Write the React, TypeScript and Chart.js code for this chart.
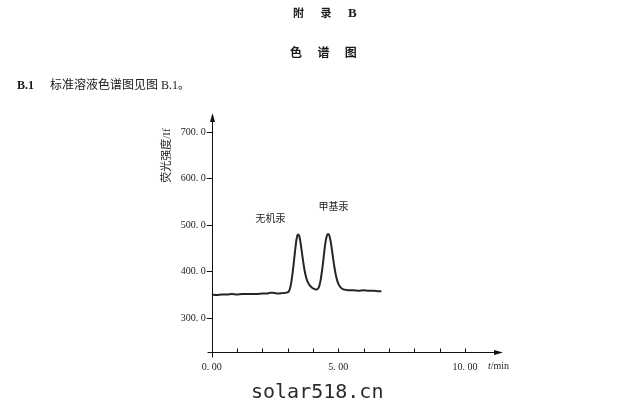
import React, { useEffect, useRef } from "react";
import { Chart, registerables } from "chart.js";

Chart.register(...registerables);

// ---- data ----
const times: number[] = [
  0.0, 0.2, 0.4, 0.6, 0.8, 1.0, 1.2, 1.4, 1.6, 1.8, 2.0, 2.2, 2.3, 2.4, 2.5, 2.6, 2.8, 2.95,
  3.05, 3.1, 3.15, 3.2, 3.25, 3.3, 3.35, 3.4, 3.45, 3.5, 3.55, 3.6, 3.65, 3.7, 3.75, 3.8,
  3.85, 3.9, 3.95, 4.0, 4.05, 4.1, 4.15, 4.2, 4.25, 4.3, 4.35, 4.4, 4.45, 4.5, 4.55, 4.6,
  4.65, 4.7, 4.75, 4.8, 4.85, 4.9, 4.95, 5.0, 5.1, 5.2, 5.3, 5.4, 5.6, 5.8, 6.0, 6.2, 6.4,
  6.6, 6.7,
];
const intensity: number[] = [
  351, 350, 351, 351, 352, 351, 352, 352, 352, 352, 353, 353, 355, 355, 354, 353, 354, 355,
  358, 366, 380, 400, 424, 449, 470, 480, 478, 465, 446, 426, 408, 394, 384, 377,
  372, 369, 366, 364, 363, 362, 362, 364, 370, 382, 400, 422, 446, 466, 478, 481,
  477, 464, 446, 426, 408, 393, 382, 374, 366, 362, 361, 360, 360, 359, 360, 359, 359,
  358, 358,
];
const yTickValues: number[] = [300, 400, 500, 600, 700];
const xTickValues: number[] = [1, 2, 3, 4, 5, 6, 7, 8, 9, 10];
const xLabelValues: number[] = [0, 5, 10];
const annotationLabels: string[] = ["无机汞", "甲基汞"];
const annotationTimes: number[] = [2.32, 4.81];
const annotationValues: number[] = [515, 541];
const yAxisTitle = "荧光强度/If";
const xAxisUnitItalic = "t";
const xAxisUnit = "/min";
const yMin = 228;
const yMax = 741.5;
const xMin = 0;
const xMax = 11.5;

const serif = '"Liberation Serif", "DejaVu Serif", serif';
const cjk = '"Liberation Serif", "Noto Sans CJK SC", sans-serif';

const decorPlugin = {
  id: "decor",
  afterDraw(chart: any) {
    const { ctx, chartArea, scales } = chart;
    const xs = scales.x;
    const ys = scales.y;
    const left = Math.round(xs.getPixelForValue(xMin)) + 0.5;
    const bottom = Math.round(ys.getPixelForValue(yMin)) + 0.5;
    const right = xs.getPixelForValue(xMax);
    const top = ys.getPixelForValue(yMax);
    ctx.save();
    ctx.strokeStyle = "#111";
    ctx.fillStyle = "#111";
    ctx.lineWidth = 1;
    // x axis
    ctx.beginPath();
    ctx.moveTo(left - 5, bottom);
    ctx.lineTo(right - 6, bottom);
    ctx.stroke();
    ctx.beginPath();
    ctx.moveTo(right, bottom);
    ctx.lineTo(right - 9, bottom - 2.5);
    ctx.lineTo(right - 9, bottom + 2.5);
    ctx.closePath();
    ctx.fill();
    // y axis
    ctx.beginPath();
    ctx.moveTo(left, bottom + 5);
    ctx.lineTo(left, top + 6);
    ctx.stroke();
    ctx.beginPath();
    ctx.moveTo(left, top);
    ctx.lineTo(left - 2.5, top + 9);
    ctx.lineTo(left + 2.5, top + 9);
    ctx.closePath();
    ctx.fill();
    // inward x ticks
    xTickValues.forEach((v) => {
      const px = Math.round(xs.getPixelForValue(v)) + 0.5;
      ctx.beginPath();
      ctx.moveTo(px, bottom);
      ctx.lineTo(px, bottom - 4);
      ctx.stroke();
    });
    // annotations
    ctx.fillStyle = "#222";
    ctx.font = '10px "Noto Sans CJK SC", sans-serif';
    ctx.textAlign = "center";
    ctx.textBaseline = "middle";
    annotationLabels.forEach((s, i) => {
      ctx.fillText(s, xs.getPixelForValue(annotationTimes[i]), ys.getPixelForValue(annotationValues[i]));
    });
    // y axis title
    ctx.save();
    ctx.translate(chartArea.left - 44.5, chartArea.top + 42.5);
    ctx.rotate(-Math.PI / 2);
    ctx.font = '11px "Liberation Serif", "Noto Sans CJK SC", serif';
    ctx.textAlign = "center";
    ctx.textBaseline = "middle";
    ctx.fillText(yAxisTitle, 0, 0);
    ctx.restore();
    // x axis unit
    ctx.textAlign = "left";
    ctx.textBaseline = "middle";
    const ux = right - 15;
    const uy = bottom + 14;
    ctx.font = "italic 10px " + serif;
    ctx.fillText(xAxisUnitItalic, ux, uy);
    const w = ctx.measureText(xAxisUnitItalic).width;
    ctx.font = "10px " + serif;
    ctx.fillText(xAxisUnit, ux + w, uy);
    ctx.restore();
  },
};

function ChromChart() {
  const ref = useRef<HTMLCanvasElement | null>(null);
  useEffect(() => {
    if (!ref.current) return;
    const chart = new Chart(ref.current, {
      type: "scatter",
      data: {
        datasets: [
          {
            data: times.map((t, i) => ({ x: t, y: intensity[i] })),
            showLine: true,
            borderColor: "#262626",
            borderWidth: 2,
            pointRadius: 0,
            cubicInterpolationMode: "monotone",
            fill: false,
          },
        ],
      },
      options: {
        animation: false,
        responsive: false,
        devicePixelRatio: 1,
        layout: { padding: { left: 150, right: 128, top: 113, bottom: 32.3 } },
        plugins: { legend: { display: false }, tooltip: { enabled: false }, title: { display: false } },
        scales: {
          x: {
            type: "linear",
            min: xMin,
            max: xMax,
            afterBuildTicks: (s: any) => {
              s.ticks = xLabelValues.map((v) => ({ value: v }));
            },
            afterFit: (s: any) => {
              s.height = 30;
            },
            grid: { display: false, drawTicks: false },
            border: { display: false },
            ticks: {
              padding: 10,
              color: "#222",
              font: { family: serif, size: 10 },
              maxRotation: 0,
              autoSkip: false,
              callback: (v: any) => Number(v).toFixed(2).replace(".", ". "),
            },
          },
          y: {
            type: "linear",
            min: yMin,
            max: yMax,
            afterBuildTicks: (s: any) => {
              s.ticks = yTickValues.map((v) => ({ value: v }));
            },
            afterFit: (s: any) => {
              s.width = 61.7;
            },
            grid: { display: true, drawOnChartArea: false, drawTicks: true, tickLength: 5, color: "#111" },
            border: { display: false },
            ticks: {
              padding: 1,
              color: "#222",
              font: { family: serif, size: 10 },
              autoSkip: false,
              callback: (v: any) => Number(v).toFixed(1).replace(".", ". "),
            },
          },
        },
      } as any,
      plugins: [decorPlugin],
    });
    return () => chart.destroy();
  }, []);
  return (
    <canvas
      ref={ref}
      width={631}
      height={414}
      style={{ position: "absolute", left: 0, top: 0, width: 631, height: 414 }}
    />
  );
}

export default function App() {
  const abs = (extra: React.CSSProperties): React.CSSProperties => ({
    position: "absolute",
    whiteSpace: "pre",
    color: "#1a1a1a",
    ...extra,
  });
  return (
    <div
      style={{
        position: "fixed",
        left: 0,
        top: 0,
        width: 631,
        height: 414,
        background: "#fff",
        overflow: "hidden",
      }}
    >
      <ChromChart />
      <div style={abs({ left: 293, top: 5, fontFamily: cjk, fontWeight: 700, fontSize: 11, lineHeight: "16px", letterSpacing: 6.9 })}>
        附 录 <span style={{ fontSize: 13 }}>B</span>
      </div>
      <div style={abs({ left: 290, top: 45, fontFamily: cjk, fontWeight: 700, fontSize: 12, lineHeight: "16px", letterSpacing: 6.2 })}>
        色 谱 图
      </div>
      <div style={abs({ left: 17, top: 77, fontFamily: serif, fontWeight: 700, fontSize: 12, lineHeight: "16px" })}>
        B.1
      </div>
      <div style={abs({ left: 50, top: 77, fontFamily: cjk, fontSize: 12, lineHeight: "16px" })}>
        标准溶液色谱图见图 B.1。
      </div>
      <div style={abs({ left: 251, top: 379, fontFamily: '"DejaVu Sans Mono", "Liberation Mono", monospace', fontSize: 20, lineHeight: "24px", color: "#2b2b2b" })}>
        solar518.cn
      </div>
    </div>
  );
}
